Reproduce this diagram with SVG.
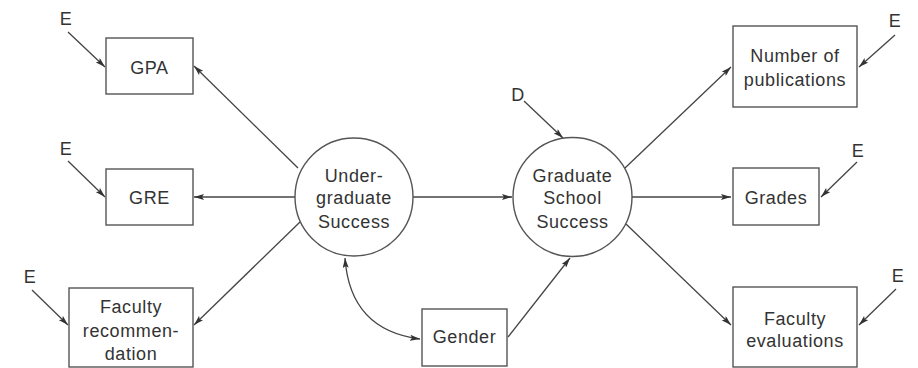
<svg xmlns="http://www.w3.org/2000/svg" width="918" height="368" viewBox="0 0 918 368">
<style>
.box{fill:#fff;stroke:#555;stroke-width:1.4}
.t{font-family:"Liberation Sans",Arial,sans-serif;font-size:18px;letter-spacing:0.6px;fill:#333;text-anchor:middle}
.c line,.c path{stroke:#444;stroke-width:1.3;fill:none}
</style>
<defs>
<marker id="ah" viewBox="0 0 10 6" refX="10" refY="3" markerWidth="10" markerHeight="6" markerUnits="userSpaceOnUse" orient="auto-start-reverse">
<path d="M0,0 L10,3 L0,6 L2,3 Z" fill="#333"/>
</marker>
</defs>
<rect width="918" height="368" fill="#fff"/>
<g class="c" id="connectors">
<line x1="68" y1="32" x2="105" y2="67" marker-end="url(#ah)"/>
<line x1="68" y1="161" x2="105" y2="197" marker-end="url(#ah)"/>
<line x1="32" y1="290" x2="68" y2="325" marker-end="url(#ah)"/>
<line x1="298" y1="168" x2="194" y2="66" marker-end="url(#ah)"/>
<line x1="295" y1="197" x2="194" y2="197" marker-end="url(#ah)"/>
<line x1="300" y1="222" x2="194" y2="325" marker-end="url(#ah)"/>
<line x1="413" y1="197" x2="512" y2="197" marker-end="url(#ah)"/>
<line x1="524" y1="101" x2="563" y2="138" marker-end="url(#ah)"/>
<path d="M345,258 Q350,330 420,339" marker-start="url(#ah)" marker-end="url(#ah)"/>
<line x1="508" y1="337" x2="570" y2="258" marker-end="url(#ah)"/>
<line x1="625" y1="168" x2="731" y2="67" marker-end="url(#ah)"/>
<line x1="632" y1="197" x2="731" y2="197" marker-end="url(#ah)"/>
<line x1="626" y1="224" x2="731" y2="325" marker-end="url(#ah)"/>
<line x1="895" y1="35" x2="859" y2="67" marker-end="url(#ah)"/>
<line x1="857" y1="162" x2="821" y2="197" marker-end="url(#ah)"/>
<line x1="896" y1="289" x2="859" y2="325" marker-end="url(#ah)"/>
</g>
<g id="e1"><text class="t" x="66" y="25">E</text></g>
<g id="e2"><text class="t" x="66" y="155">E</text></g>
<g id="e3"><text class="t" x="30" y="283">E</text></g>
<g id="d"><text class="t" x="518" y="101">D</text></g>
<g id="e4"><text class="t" x="895" y="27">E</text></g>
<g id="e5"><text class="t" x="858" y="157">E</text></g>
<g id="e6"><text class="t" x="898" y="282">E</text></g>
<g id="gpa"><rect class="box" x="106" y="38" width="87" height="56"/><text class="t" x="149.5" y="73.5">GPA</text></g>
<g id="gre"><rect class="box" x="106" y="169" width="87" height="56"/><text class="t" x="149.5" y="204">GRE</text></g>
<g id="facrec"><rect class="box" x="69" y="288" width="124" height="79"/><text class="t" x="131" y="313">Faculty</text><text class="t" x="131" y="337">recommen-</text><text class="t" x="131" y="360">dation</text></g>
<g id="ugs"><circle class="box" cx="354" cy="197" r="59"/><text class="t" x="354" y="182">Under-</text><text class="t" x="354" y="204">graduate</text><text class="t" x="354" y="228">Success</text></g>
<g id="gss"><circle class="box" cx="572.5" cy="197" r="59.5"/><text class="t" x="572.5" y="182">Graduate</text><text class="t" x="572.5" y="204">School</text><text class="t" x="572.5" y="228">Success</text></g>
<g id="gender"><rect class="box" x="422" y="309" width="85" height="57"/><text class="t" x="464.5" y="343">Gender</text></g>
<g id="pubs"><rect class="box" x="733" y="26" width="124" height="81"/><text class="t" x="795" y="62">Number of</text><text class="t" x="795" y="86">publications</text></g>
<g id="grades"><rect class="box" x="733" y="168" width="86" height="57"/><text class="t" x="776" y="204">Grades</text></g>
<g id="faceval"><rect class="box" x="733" y="287" width="124" height="80"/><text class="t" x="795" y="325">Faculty</text><text class="t" x="795" y="347">evaluations</text></g>
</svg>
